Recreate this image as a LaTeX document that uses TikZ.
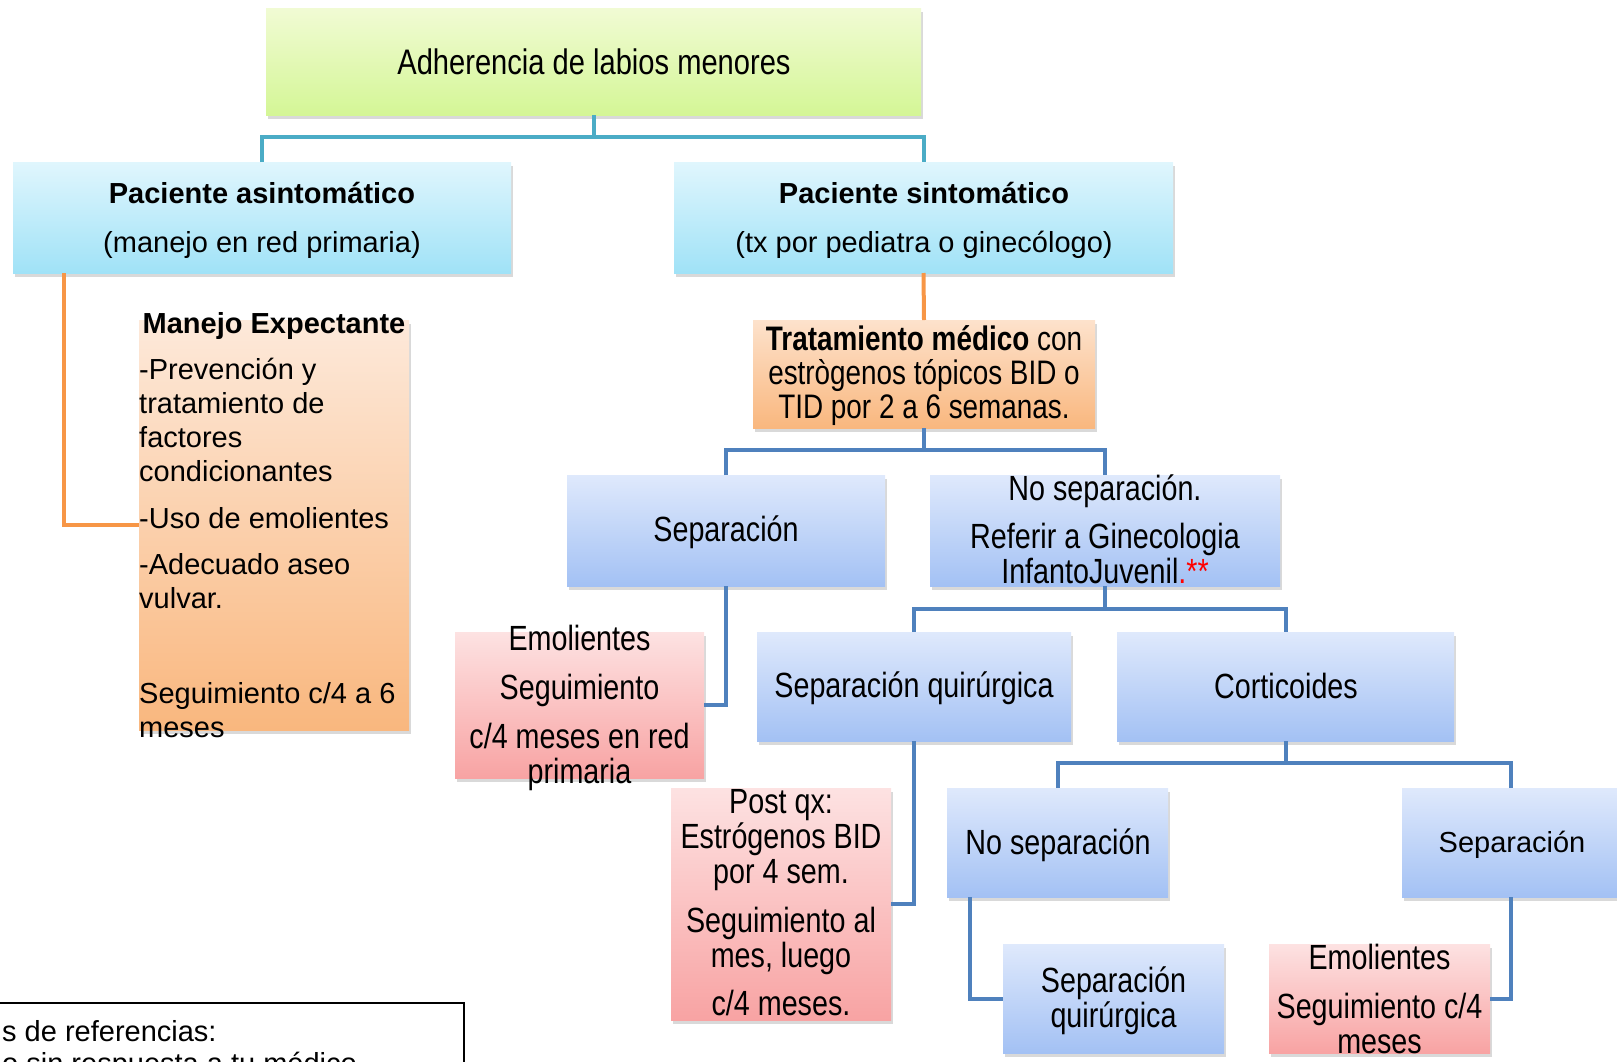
\documentclass[tikz,border=0pt]{standalone}
\usepackage{fontspec}
\setmainfont{Liberation Sans}
\newfontfamily\narrowfont[FakeStretch=0.82]{Liberation Sans}
\usetikzlibrary{shadows,calc}
\definecolor{tealln}{RGB}{75,172,198}
\definecolor{orangeln}{RGB}{247,150,70}
\definecolor{blueln}{RGB}{79,129,189}
\tikzset{
  box/.style={inner sep=0pt, outer sep=0pt,
    drop shadow={shadow xshift=2pt, shadow yshift=-4pt, opacity=0.3}},
  greenbox/.style={box, top color={rgb,255:red,241;green,251;blue,212}, bottom color={rgb,255:red,212;green,246;blue,150}},
  cyanbox/.style={box, top color={rgb,255:red,224;green,246;blue,253}, bottom color={rgb,255:red,160;green,226;blue,247}},
  orangebox/.style={box, top color={rgb,255:red,253;green,226;blue,204}, bottom color={rgb,255:red,249;green,183;blue,126}},
  bluebox/.style={box, top color={rgb,255:red,223;green,233;blue,252}, bottom color={rgb,255:red,163;green,193;blue,244}},
  pinkbox/.style={box, top color={rgb,255:red,253;green,226;blue,226}, bottom color={rgb,255:red,248;green,163;blue,163}},
  plain/.style={inner sep=0pt, align=center, font=\fontsize{29}{34}\selectfont},
  narrow/.style={inner sep=0pt, align=center, font=\narrowfont\fontsize{35}{35}\selectfont},
  tealline/.style={draw=tealln, line width=4pt},
  orangeline/.style={draw=orangeln, line width=4pt},
  blueline/.style={draw=blueln, line width=4pt},
}

\begin{document}
\begin{tikzpicture}[x=1pt, y=-1pt]
  \useasboundingbox (0,0) rectangle (1617,1061);
  \clip (0,0) rectangle (1617,1061);

  % boxes
  \node[greenbox, minimum width=655pt, minimum height=107pt] (top) at (593.5,61.5) {};
  \node[cyanbox, minimum width=498pt, minimum height=111pt] (asin) at (262,217.5) {};
  \node[cyanbox, minimum width=499pt, minimum height=111pt] (sint) at (923.5,217.5) {};
  \node[orangebox, minimum width=270pt, minimum height=410pt,
        top color={rgb,255:red,253;green,233;blue,218}] (manejo) at (274,525) {};
  \node[orangebox, minimum width=342pt, minimum height=108pt] (trat) at (924,374) {};
  \node[bluebox, minimum width=318pt, minimum height=111pt] (sep1) at (726,530.5) {};
  \node[bluebox, minimum width=350pt, minimum height=111pt] (nosep1) at (1105,530.5) {};
  \node[pinkbox, minimum width=249pt, minimum height=146pt] (emol1) at (579.5,705) {};
  \node[bluebox, minimum width=314pt, minimum height=109pt] (sepq) at (914,686.5) {};
  \node[bluebox, minimum width=337pt, minimum height=109pt] (cort) at (1285.5,686.5) {};
  \node[pinkbox, minimum width=220pt, minimum height=232pt] (postqx) at (781,904) {};
  \node[bluebox, minimum width=221pt, minimum height=109pt] (nosep2) at (1057.5,842.5) {};
  \node[bluebox, minimum width=218pt, minimum height=109pt] (sep2) at (1511,842.5) {};
  \node[bluebox, minimum width=221pt, minimum height=109pt] (sepq2) at (1113.5,998.5) {};
  \node[pinkbox, minimum width=221pt, minimum height=109pt] (emol2) at (1379.5,998.5) {};
  \node[draw=black, line width=1.5pt, inner sep=0pt, anchor=north west,
        minimum width=483pt, minimum height=100pt] (note) at (-20,1002) {};

  % texts
  \node[narrow, font=\narrowfont\fontsize{35.5}{35}\selectfont] (top-t) at (594,62) {Adherencia de labios menores};
  \node[plain] (asin-t) at (262,220.5) {\textbf{Paciente asintomático}\\[15pt](manejo en red primaria)};
  \node[plain] (sint-t) at (924,220.5) {\textbf{Paciente sintomático}\\[15pt](tx por pediatra o ginecólogo)};
  \node[plain] (manejo-h) at (274,326) {\textbf{Manejo Expectante}};
  \node[plain, align=left, anchor=west] (manejo-t) at (139,548)
    {-Prevención y\\tratamiento de\\factores\\condicionantes\\[13pt]-Uso de emolientes\\[12pt]-Adecuado aseo\\vulvar.\\[61pt]Seguimiento c/4 a 6\\meses};
  \node[narrow, font=\narrowfont\fontsize{34}{34}\selectfont] (trat-t) at (924,376)
    {\textbf{Tratamiento médico} con\\estrògenos tópicos BID o\\TID por 2 a 6 semanas.};
  \node[narrow] (sep1-t) at (726,532) {Separación};
  \node[narrow] (nosep1-t) at (1105,529)
    {No separación.\\[13pt]Referir a Ginecologia\\InfantoJuvenil\textcolor{red}{.**}};
  \node[narrow] (emol1-t) at (579.5,707.5)
    {Emolientes\\[14pt]Seguimiento\\[14pt]c/4 meses en red\\primaria};
  \node[narrow] (sepq-t) at (914,688.5) {Separación quirúrgica};
  \node[narrow] (cort-t) at (1286,686) {Corticoides};
  \node[narrow] (postqx-t) at (781,902.5)
    {Post qx:\\Estrógenos BID\\por 4 sem.\\[14pt]Seguimiento al\\mes, luego\\[13pt]c/4 meses.};
  \node[narrow] (nosep2-t) at (1058,845) {No separación};
  \node[plain] (sep2-t) at (1512,844.5) {Separación};
  \node[narrow] (sepq2-t) at (1113.5,1001) {Separación\\quirúrgica};
  \node[narrow] (emol2-t) at (1379.5,998.5) {Emolientes\\[14pt]Seguimiento c/4\\meses};
  \node[plain, align=left, anchor=west, font=\fontsize{29}{32}\selectfont] (note-t) at (2,1049.5)
    {s de referencias:\\o sin respuesta a tu médico};

  % connectors
  \coordinate (bus0) at ($(top.south)+(0,22)$);
  \draw[tealline] (top.south) -- (bus0);
  \draw[tealline] (asin.north) |- (bus0) -| (sint.north);

  \draw[orangeline] ($(asin.south west)+(51,0)$) |- (manejo.west);
  \draw[orangeline] (sint.south) -- (trat.north);

  \coordinate (bus1) at ($(trat.south)+(0,22)$);
  \draw[blueline] (trat.south) -- (bus1);
  \draw[blueline] (sep1.north) |- (bus1) -| (nosep1.north);
  \draw[blueline] (sep1.south) |- (emol1.east);

  \coordinate (bus2) at ($(nosep1.south)+(0,23)$);
  \draw[blueline] (nosep1.south) -- (bus2);
  \draw[blueline] (sepq.north) |- (bus2) -| (cort.north);
  \draw[blueline] (sepq.south) |- (postqx.east);

  \coordinate (bus3) at ($(cort.south)+(0,22)$);
  \draw[blueline] (cort.south) -- (bus3);
  \draw[blueline] (nosep2.north) |- (bus3) -| (sep2.north);
  \draw[blueline] ($(nosep2.south west)+(23,0)$) |- (sepq2.west);
  \draw[blueline] (sep2.south) |- (emol2.east);
\end{tikzpicture}
\end{document}
